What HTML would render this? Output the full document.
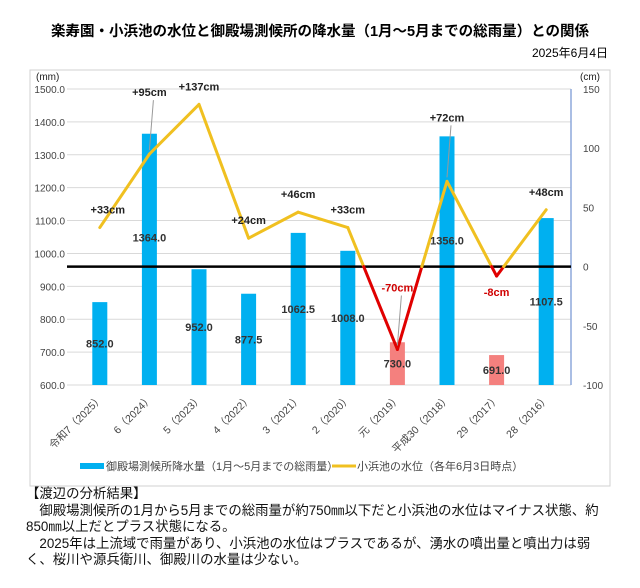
<!DOCTYPE html>
<html><head><meta charset="utf-8">
<style>
body{margin:0;background:#fff;width:640px;height:588px;overflow:hidden;font-family:"Liberation Sans","Noto Sans CJK JP",sans-serif;}
svg text{font-family:"Liberation Sans","Noto Sans CJK JP",sans-serif;}
#notes{position:absolute;left:26px;top:486px;width:610px;font-size:13.4px;line-height:16.5px;color:#111;letter-spacing:0;white-space:nowrap;font-family:"Liberation Sans","Noto Sans CJK JP",sans-serif;}
</style></head><body>
<svg id="chart" width="640" height="588" style="position:absolute;left:0;top:0">
<text x="320" y="36" text-anchor="middle" font-size="14.5" font-weight="bold" fill="#000">楽寿園・小浜池の水位と御殿場測候所の降水量（1月～5月までの総雨量）との関係</text>
<text x="608" y="57" text-anchor="end" font-size="12" fill="#000">2025年6月4日</text>
<rect x="30" y="70" width="580" height="416" fill="none" stroke="#d0d0d0"/>
<text x="36" y="80" font-size="10" fill="#222">(mm)</text>
<text x="580" y="80" font-size="10" fill="#222">(cm)</text>
<g id="grid"></g><g id="bars"></g><g id="line"></g><g id="labels"></g>
<g>
<rect x="80" y="463" width="24" height="6" fill="#00b0f0"/>
<text x="106" y="470" font-size="11" fill="#444">御殿場測候所降水量（1月～5月までの総雨量）</text>
<line x1="332" y1="466" x2="356" y2="466" stroke="#f0c020" stroke-width="3"/>
<text x="357" y="470" font-size="11" fill="#444">小浜池の水位（各年6月3日時点）</text>
</g>
</svg>
<div id="notes">【渡辺の分析結果】<br>　御殿場測候所の1月から5月までの総雨量が約750㎜以下だと小浜池の水位はマイナス状態、約<br>850㎜以上だとプラス状態になる。<br>　2025年は上流域で雨量があり、小浜池の水位はプラスであるが、湧水の噴出量と噴出力は弱<br>く、桜川や源兵衛川、御殿川の水量は少ない。</div>
<script>
const categories=["令和7（2025）","6（2024）","5（2023）","4（2022）","3（2021）","2（2020）","元（2019）","平成30（2018）","29（2017）","28（2016）"];
const rainfall=[852.0,1364.0,952.0,877.5,1062.5,1008.0,730.0,1356.0,691.0,1107.5];
const waterLevel=[33,95,137,24,46,33,-70,72,-8,48];
const leftTicks=[600,700,800,900,1000,1100,1200,1300,1400,1500];
const rightTicks=[-100,-50,0,50,100,150];
const NS="http://www.w3.org/2000/svg";
const L=75,R=571,T=89,B=385;
const cw=(R-L)/categories.length;
const xC=i=>L+cw*(i+0.5);
const yL=v=>B-(v-600)/900*(B-T);
const yR=v=>B-(v+100)/250*(B-T);
function mk(tag,attrs,parent){const e=document.createElementNS(NS,tag);for(const k in attrs)e.setAttribute(k,attrs[k]);parent.appendChild(e);return e;}
const grid=document.getElementById('grid'),bars=document.getElementById('bars'),line=document.getElementById('line'),labels=document.getElementById('labels');
leftTicks.forEach(t=>{
 const g=mk('line',{x1:L-8,x2:R,y1:yL(t),y2:yL(t),stroke:'#d9d9d9','stroke-width':1},grid);
 
 
 const tx=mk('text',{x:L-10,y:yL(t)+4,'text-anchor':'end','font-size':10,fill:'#444'},grid);
 tx.textContent=t.toFixed(1);
 
 
});
rightTicks.forEach(t=>{
 const tx=mk('text',{x:R+12,y:yR(t)+4,'font-size':10,fill:'#444'},grid);
 tx.textContent=t;
 
 
});
const ax=mk('line',{x1:R,x2:R,y1:T,y2:B,stroke:'#8ea9db','stroke-width':1.5},grid);


categories.forEach((c,i)=>{
 const v=rainfall[i];
 const b=mk('rect',{x:xC(i)-7.5,y:yL(v),width:15,height:B-yL(v),fill:waterLevel[i]<0?'#f4807e':'#00b0f0'},bars);
 
 
 const ly=Math.min((yL(v)+B)/2,yL(v)+104)+4;
 const bl=mk('text',{x:xC(i),y:ly,'text-anchor':'middle','font-size':11,'font-weight':'bold',fill:'#333'},labels);
 bl.textContent=v.toFixed(1);
 
 
 const cx=xC(i)+4,cy=B+14;
 const cl=mk('text',{x:cx,y:cy,'text-anchor':'end','font-size':10.5,fill:'#444',transform:`rotate(-45 ${cx} ${cy})`},grid);
 cl.textContent=c;
 
 
});
const zl=mk('line',{x1:L-8,x2:R,y1:yR(0),y2:yR(0),stroke:'#000','stroke-width':2.5},line);


for(let i=0;i<waterLevel.length-1;i++){
 const a=waterLevel[i],b=waterLevel[i+1];
 const pts=[[xC(i),a]];
 if((a<0)!==(b<0)){const f=a/(a-b);pts.push([xC(i)+f*cw,0]);}
 pts.push([xC(i+1),b]);
 for(let k=0;k<pts.length-1;k++){
  const neg=(pts[k][1]+pts[k+1][1])/2<0;
  const s=mk('line',{x1:pts[k][0],y1:yR(pts[k][1]),x2:pts[k+1][0],y2:yR(pts[k+1][1]),stroke:neg?'#e00000':'#f0c020','stroke-width':3,'stroke-linecap':'round'},line);
  
  
 }
}
waterLevel.forEach((v,i)=>{
 let dy=-14;
 if(i===1)dy=-58; if(i===7)dy=-60; if(i===6)dy=-58; if(i===8)dy=20;
 const t=mk('text',{x:xC(i)+(i===0?8:0),y:yR(v)+dy,'text-anchor':'middle','font-size':11,'font-weight':'bold',fill:v<0?'#d00000':'#222'},labels);
 t.textContent=(v>0?'+':'')+v+'cm';
 
 
 if(i===1||i===6||i===7){
  const ll=mk('line',{x1:xC(i)+4,y1:yR(v)+dy+4,x2:xC(i),y2:yR(v)-4,stroke:'#999','stroke-width':1},labels);
  
  
 }
});
</script>
</body></html>
